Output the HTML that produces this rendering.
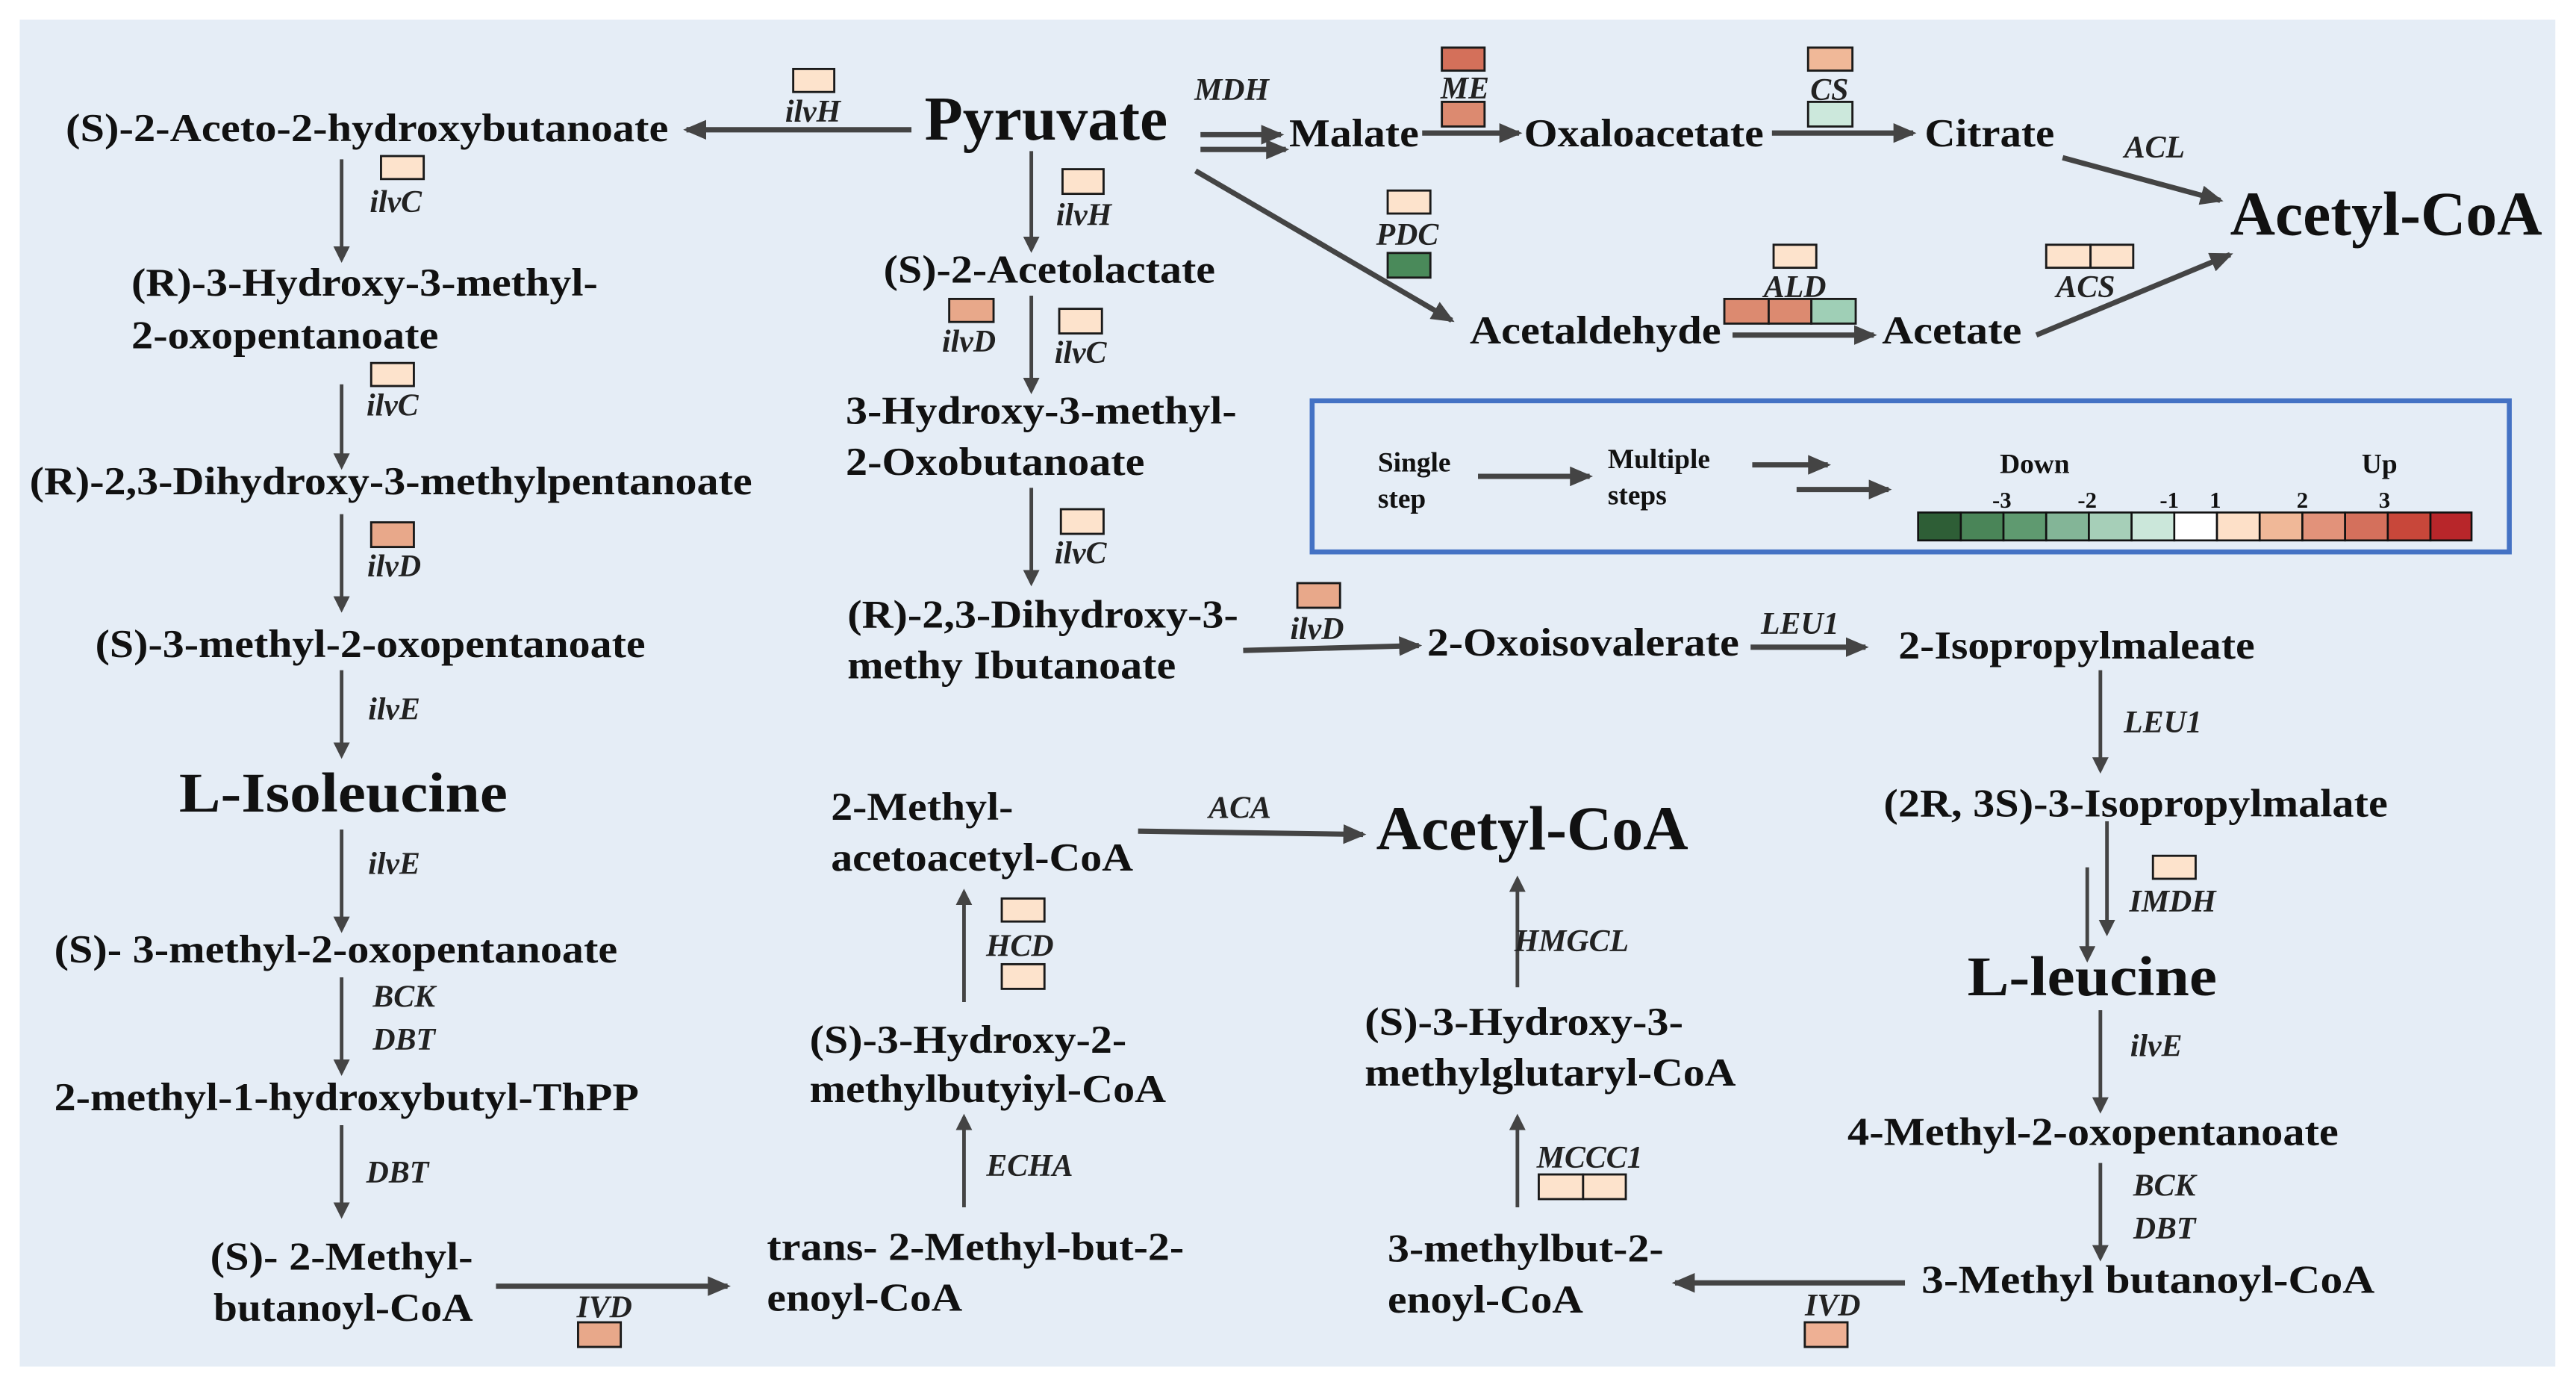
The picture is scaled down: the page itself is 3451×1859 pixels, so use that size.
<!DOCTYPE html>
<html><head><meta charset="utf-8"><style>
html,body{margin:0;padding:0;background:#fff;}
svg{display:block;}
text{font-family:"Liberation Serif","Times New Roman",serif;fill:#111;}
.t{font-size:24px;font-weight:bold;}
.b{font-size:38px;font-weight:bold;}
.m{font-size:34px;font-weight:bold;}
.e{font-size:19px;font-weight:bold;font-style:italic;fill:#222;}
.s{font-size:17px;font-weight:bold;}
.n{font-size:14px;font-weight:bold;}
.ar{stroke:#444;stroke-width:2.2;fill:none;marker-end:url(#ah);}
.ab{stroke:#444;stroke-width:3.2;fill:none;marker-end:url(#ah2);}
.bx{stroke:#1a1a1a;stroke-width:1.3;}
</style></head><body>
<svg width="3451" height="1859" viewBox="0 0 1568.6 845" xmlns="http://www.w3.org/2000/svg">
<defs>
<marker id="ah" markerWidth="10" markerHeight="10" refX="8" refY="5" orient="auto" markerUnits="userSpaceOnUse"><path d="M0,0 L10,5 L0,10 Z" fill="#444"/></marker>
<marker id="ah2" markerWidth="14" markerHeight="12" refX="12" refY="6" orient="auto" markerUnits="userSpaceOnUse"><path d="M0,0 L14,6 L0,12 Z" fill="#444"/></marker>
</defs>
<rect x="0" y="0" width="1568.6" height="845" fill="#fff"/>
<rect x="12" y="12" width="1544" height="820" fill="#e5edf6"/>

<text class="t" x="40" y="86" textLength="367" lengthAdjust="spacingAndGlyphs">(S)-2-Aceto-2-hydroxybutanoate</text>
<text class="b" x="563" y="85" textLength="148" lengthAdjust="spacingAndGlyphs">Pyruvate</text>
<rect class="bx" x="483" y="42" width="25" height="14" fill="#fde3cc"/>
<text class="e" x="495" y="74" text-anchor="middle">ilvH</text>
<line class="ab" x1="555" y1="79" x2="418" y2="79"/>

<text class="e" x="750" y="61" text-anchor="middle">MDH</text>
<line class="ab" x1="731" y1="82" x2="780" y2="82"/>
<line class="ab" x1="731" y1="91" x2="783" y2="91"/>
<text class="t" x="785" y="89" textLength="79" lengthAdjust="spacingAndGlyphs">Malate</text>
<rect class="bx" x="878" y="29" width="26" height="14" fill="#d4705a"/>
<text class="e" x="892" y="60" text-anchor="middle">ME</text>
<rect class="bx" x="878" y="62" width="26" height="15" fill="#dc8a70"/>
<line class="ab" x1="866" y1="81" x2="925" y2="81"/>
<text class="t" x="928" y="89" textLength="146" lengthAdjust="spacingAndGlyphs">Oxaloacetate</text>
<rect class="bx" x="1101" y="29" width="27" height="14" fill="#f0b898"/>
<text class="e" x="1114" y="61" text-anchor="middle">CS</text>
<rect class="bx" x="1101" y="62" width="27" height="15" fill="#cce8dc"/>
<line class="ab" x1="1079" y1="81" x2="1165" y2="81"/>
<text class="t" x="1172" y="89" textLength="79" lengthAdjust="spacingAndGlyphs">Citrate</text>
<text class="e" x="1312" y="96" text-anchor="middle">ACL</text>
<line class="ab" x1="1256" y1="96" x2="1352" y2="122"/>
<text class="b" x="1358" y="143" textLength="190" lengthAdjust="spacingAndGlyphs">Acetyl-CoA</text>

<line class="ab" x1="728" y1="104" x2="884" y2="195"/>
<rect class="bx" x="845" y="116" width="26" height="14" fill="#fde3cc"/>
<text class="e" x="857" y="149" text-anchor="middle">PDC</text>
<rect class="bx" x="845" y="154" width="26" height="15" fill="#4a8a5a"/>
<text class="t" x="895" y="209" textLength="153" lengthAdjust="spacingAndGlyphs">Acetaldehyde</text>
<rect class="bx" x="1080" y="149" width="26" height="14" fill="#fde3cc"/>
<text class="e" x="1093" y="181" text-anchor="middle">ALD</text>
<rect class="bx" x="1050" y="182" width="27" height="15" fill="#dc8a70"/>
<rect class="bx" x="1077" y="182" width="26" height="15" fill="#dc8a70"/>
<rect class="bx" x="1103" y="182" width="27" height="15" fill="#9fcfb6"/>
<line class="ab" x1="1055" y1="204" x2="1141" y2="204"/>
<text class="t" x="1146" y="209" textLength="85" lengthAdjust="spacingAndGlyphs">Acetate</text>
<rect class="bx" x="1246" y="149" width="27" height="14" fill="#fde3cc"/>
<rect class="bx" x="1273" y="149" width="26" height="14" fill="#fde3cc"/>
<text class="e" x="1270" y="181" text-anchor="middle">ACS</text>
<line class="ab" x1="1240" y1="204" x2="1358" y2="155"/>

<rect x="799" y="244" width="729" height="92" fill="none" stroke="#4472c4" stroke-width="3"/>
<text class="s" x="839" y="287">Single</text>
<text class="s" x="839" y="309">step</text>
<line class="ab" x1="900" y1="290" x2="968" y2="290"/>
<text class="s" x="979" y="285">Multiple</text>
<text class="s" x="979" y="307">steps</text>
<line class="ab" x1="1067" y1="283" x2="1113" y2="283"/>
<line class="ab" x1="1094" y1="298" x2="1150" y2="298"/>
<text class="s" x="1239" y="288" text-anchor="middle">Down</text>
<text class="s" x="1449" y="288" text-anchor="middle">Up</text>
<text class="n" x="1219" y="309" text-anchor="middle">-3</text>
<text class="n" x="1271" y="309" text-anchor="middle">-2</text>
<text class="n" x="1321" y="309" text-anchor="middle">-1</text>
<text class="n" x="1349" y="309" text-anchor="middle">1</text>
<text class="n" x="1402" y="309" text-anchor="middle">2</text>
<text class="n" x="1452" y="309" text-anchor="middle">3</text>
<g stroke="#111" stroke-width="1.2">
<rect x="1168" y="312" width="26" height="17" fill="#2e5e36"/>
<rect x="1194" y="312" width="26" height="17" fill="#4a8558"/>
<rect x="1220" y="312" width="26" height="17" fill="#5f9a70"/>
<rect x="1246" y="312" width="26" height="17" fill="#83b597"/>
<rect x="1272" y="312" width="26" height="17" fill="#a6cfb8"/>
<rect x="1298" y="312" width="26" height="17" fill="#cbe7da"/>
<rect x="1324" y="312" width="26" height="17" fill="#ffffff"/>
<rect x="1350" y="312" width="26" height="17" fill="#fde0c8"/>
<rect x="1376" y="312" width="26" height="17" fill="#f0b898"/>
<rect x="1402" y="312" width="26" height="17" fill="#e2927a"/>
<rect x="1428" y="312" width="26" height="17" fill="#d4705c"/>
<rect x="1454" y="312" width="26" height="17" fill="#c8473a"/>
<rect x="1480" y="312" width="25" height="17" fill="#b8262a"/>
</g>

<rect class="bx" x="232" y="95" width="26" height="14" fill="#fde3cc"/>
<text class="e" x="241" y="129" text-anchor="middle">ilvC</text>
<line class="ar" x1="208" y1="97" x2="208" y2="158"/>
<text class="t" x="80" y="180" textLength="284" lengthAdjust="spacingAndGlyphs">(R)-3-Hydroxy-3-methyl-</text>
<text class="t" x="80" y="212" textLength="187" lengthAdjust="spacingAndGlyphs">2-oxopentanoate</text>
<rect class="bx" x="226" y="221" width="26" height="14" fill="#fde3cc"/>
<text class="e" x="239" y="253" text-anchor="middle">ilvC</text>
<line class="ar" x1="208" y1="234" x2="208" y2="284"/>
<text class="t" x="18" y="301" textLength="440" lengthAdjust="spacingAndGlyphs">(R)-2,3-Dihydroxy-3-methylpentanoate</text>
<rect class="bx" x="226" y="318" width="26" height="15" fill="#e8a88a"/>
<text class="e" x="240" y="351" text-anchor="middle">ilvD</text>
<line class="ar" x1="208" y1="313" x2="208" y2="371"/>
<text class="t" x="58" y="400" textLength="335" lengthAdjust="spacingAndGlyphs">(S)-3-methyl-2-oxopentanoate</text>
<text class="e" x="240" y="438" text-anchor="middle">ilvE</text>
<line class="ar" x1="208" y1="408" x2="208" y2="460"/>
<text class="m" x="109" y="494" textLength="200" lengthAdjust="spacingAndGlyphs">L-Isoleucine</text>
<text class="e" x="240" y="532" text-anchor="middle">ilvE</text>
<line class="ar" x1="208" y1="505" x2="208" y2="566"/>
<text class="t" x="33" y="586" textLength="343" lengthAdjust="spacingAndGlyphs">(S)- 3-methyl-2-oxopentanoate</text>
<text class="e" x="246" y="613" text-anchor="middle">BCK</text>
<text class="e" x="246" y="639" text-anchor="middle">DBT</text>
<line class="ar" x1="208" y1="595" x2="208" y2="653"/>
<text class="t" x="33" y="676" textLength="356" lengthAdjust="spacingAndGlyphs">2-methyl-1-hydroxybutyl-ThPP</text>
<text class="e" x="242" y="720" text-anchor="middle">DBT</text>
<line class="ar" x1="208" y1="685" x2="208" y2="740"/>
<text class="t" x="128" y="773" textLength="160" lengthAdjust="spacingAndGlyphs">(S)- 2-Methyl-</text>
<text class="t" x="130" y="804" textLength="158" lengthAdjust="spacingAndGlyphs">butanoyl-CoA</text>
<line class="ab" x1="302" y1="783" x2="443" y2="783"/>
<text class="e" x="368" y="802" text-anchor="middle">IVD</text>
<rect class="bx" x="352" y="805" width="26" height="15" fill="#e8a88a"/>

<line class="ar" x1="628" y1="92" x2="628" y2="152"/>
<rect class="bx" x="647" y="103" width="25" height="15" fill="#fde3cc"/>
<text class="e" x="660" y="137" text-anchor="middle">ilvH</text>
<text class="t" x="538" y="172" textLength="202" lengthAdjust="spacingAndGlyphs">(S)-2-Acetolactate</text>
<rect class="bx" x="578" y="182" width="27" height="14" fill="#e8a88a"/>
<text class="e" x="590" y="214" text-anchor="middle">ilvD</text>
<rect class="bx" x="645" y="188" width="26" height="15" fill="#fde3cc"/>
<text class="e" x="658" y="221" text-anchor="middle">ilvC</text>
<line class="ar" x1="628" y1="180" x2="628" y2="238"/>
<text class="t" x="515" y="258" textLength="238" lengthAdjust="spacingAndGlyphs">3-Hydroxy-3-methyl-</text>
<text class="t" x="515" y="289" textLength="182" lengthAdjust="spacingAndGlyphs">2-Oxobutanoate</text>
<rect class="bx" x="646" y="310" width="26" height="15" fill="#fde3cc"/>
<text class="e" x="658" y="343" text-anchor="middle">ilvC</text>
<line class="ar" x1="628" y1="297" x2="628" y2="355"/>
<text class="t" x="516" y="382" textLength="238" lengthAdjust="spacingAndGlyphs">(R)-2,3-Dihydroxy-3-</text>
<text class="t" x="516" y="413" textLength="200" lengthAdjust="spacingAndGlyphs">methy Ibutanoate</text>
<line class="ab" x1="757" y1="396" x2="864" y2="393"/>
<rect class="bx" x="790" y="355" width="26" height="15" fill="#e8a88a"/>
<text class="e" x="802" y="389" text-anchor="middle">ilvD</text>
<text class="t" x="869" y="399" textLength="190" lengthAdjust="spacingAndGlyphs">2-Oxoisovalerate</text>
<text class="e" x="1096" y="386" text-anchor="middle">LEU1</text>
<line class="ab" x1="1066" y1="394" x2="1136" y2="394"/>
<text class="t" x="1156" y="401" textLength="217" lengthAdjust="spacingAndGlyphs">2-Isopropylmaleate</text>

<text class="e" x="1317" y="446" text-anchor="middle">LEU1</text>
<line class="ar" x1="1279" y1="408" x2="1279" y2="469"/>
<text class="t" x="1147" y="497" textLength="307" lengthAdjust="spacingAndGlyphs">(2R, 3S)-3-Isopropylmalate</text>
<rect class="bx" x="1311" y="521" width="26" height="14" fill="#fde3cc"/>
<text class="e" x="1323" y="555" text-anchor="middle">IMDH</text>
<line class="ar" x1="1283" y1="500" x2="1283" y2="568"/>
<line class="ar" x1="1271" y1="528" x2="1271" y2="584"/>
<text class="m" x="1198" y="606" textLength="152" lengthAdjust="spacingAndGlyphs">L-leucine</text>
<text class="e" x="1313" y="643" text-anchor="middle">ilvE</text>
<line class="ar" x1="1279" y1="615" x2="1279" y2="676"/>
<text class="t" x="1125" y="697" textLength="299" lengthAdjust="spacingAndGlyphs">4-Methyl-2-oxopentanoate</text>
<text class="e" x="1318" y="728" text-anchor="middle">BCK</text>
<text class="e" x="1318" y="754" text-anchor="middle">DBT</text>
<line class="ar" x1="1279" y1="708" x2="1279" y2="766"/>
<text class="t" x="1170" y="787" textLength="276" lengthAdjust="spacingAndGlyphs">3-Methyl  butanoyl-CoA</text>
<line class="ab" x1="1160" y1="781" x2="1020" y2="781"/>
<text class="e" x="1116" y="801" text-anchor="middle">IVD</text>
<rect class="bx" x="1099" y="805" width="26" height="15" fill="#eeb094"/>

<text class="t" x="845" y="768" textLength="168" lengthAdjust="spacingAndGlyphs">3-methylbut-2-</text>
<text class="t" x="845" y="799" textLength="119" lengthAdjust="spacingAndGlyphs">enoyl-CoA</text>
<line class="ar" x1="924" y1="735" x2="924" y2="680"/>
<text class="e" x="968" y="711" text-anchor="middle">MCCC1</text>
<rect class="bx" x="937" y="715" width="27" height="15" fill="#fde3cc"/>
<rect class="bx" x="964" y="715" width="26" height="15" fill="#fde3cc"/>
<text class="t" x="831" y="630" textLength="194" lengthAdjust="spacingAndGlyphs">(S)-3-Hydroxy-3-</text>
<text class="t" x="831" y="661" textLength="226" lengthAdjust="spacingAndGlyphs">methylglutaryl-CoA</text>
<line class="ar" x1="924" y1="601" x2="924" y2="535"/>
<text class="e" x="957" y="579" text-anchor="middle">HMGCL</text>
<text class="b" x="838" y="517" textLength="190" lengthAdjust="spacingAndGlyphs">Acetyl-CoA</text>

<text class="t" x="506" y="499" textLength="111" lengthAdjust="spacingAndGlyphs">2-Methyl-</text>
<text class="t" x="506" y="530" textLength="184" lengthAdjust="spacingAndGlyphs">acetoacetyl-CoA</text>
<text class="e" x="755" y="498" text-anchor="middle">ACA</text>
<line class="ab" x1="693" y1="506" x2="830" y2="508"/>
<rect class="bx" x="610" y="547" width="26" height="14" fill="#fde3cc"/>
<text class="e" x="621" y="582" text-anchor="middle">HCD</text>
<rect class="bx" x="610" y="587" width="26" height="15" fill="#fde3cc"/>
<line class="ar" x1="587" y1="610" x2="587" y2="543"/>
<text class="t" x="493" y="641" textLength="193" lengthAdjust="spacingAndGlyphs">(S)-3-Hydroxy-2-</text>
<text class="t" x="493" y="671" textLength="217" lengthAdjust="spacingAndGlyphs">methylbutyiyl-CoA</text>
<line class="ar" x1="587" y1="735" x2="587" y2="680"/>
<text class="e" x="627" y="716" text-anchor="middle">ECHA</text>
<text class="t" x="467" y="767" textLength="254" lengthAdjust="spacingAndGlyphs">trans- 2-Methyl-but-2-</text>
<text class="t" x="467" y="798" textLength="119" lengthAdjust="spacingAndGlyphs">enoyl-CoA</text>
</svg>
</body></html>
